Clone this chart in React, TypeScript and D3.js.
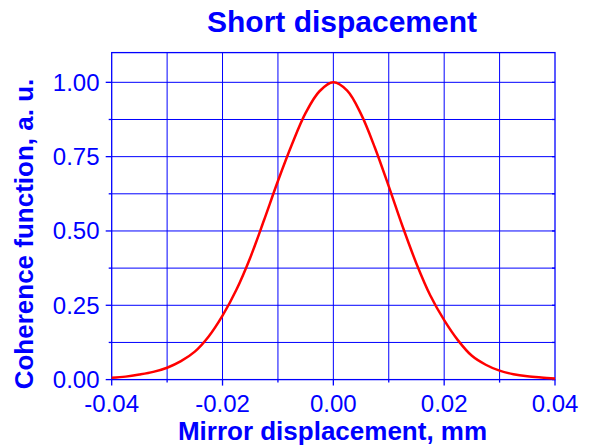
import React, { useEffect, useRef } from "react";
import * as d3 from "d3";

// values
const displacement = [
  -0.04, -0.0375, -0.035, -0.0325, -0.03, -0.0275, -0.025, -0.0225, -0.02, -0.0175, -0.015,
  -0.0125, -0.01, -0.0075, -0.005, -0.0025, 0, 0.0025, 0.005, 0.0075, 0.01, 0.0125, 0.015,
  0.0175, 0.02, 0.0225, 0.025, 0.0275, 0.03, 0.0325, 0.035, 0.0375, 0.04,
];
const coherence = [
  0.006, 0.01, 0.017, 0.026, 0.04, 0.062, 0.094, 0.145, 0.215, 0.302, 0.41, 0.537, 0.668, 0.79,
  0.897, 0.97, 1.0, 0.972, 0.893, 0.78, 0.65, 0.515, 0.39, 0.283, 0.2, 0.132, 0.08, 0.05,
  0.03, 0.018, 0.011, 0.007, 0.004,
];
const xTicks = [-0.04, -0.02, 0, 0.02, 0.04];
const xMinor = [-0.03, -0.01, 0.01, 0.03];
const yTicks = [0, 0.25, 0.5, 0.75, 1.0];
const yMinor = [0.125, 0.375, 0.625, 0.875];

const title = "Short dispacement";
const xTitle = "Mirror displacement, mm";
const yTitle = "Coherence function, a. u.";

export default function App() {
  const ref = useRef(null);

  useEffect(() => {
    const svg = d3.select(ref.current);
    svg.selectAll("*").remove();

    const width = 595;
    const height = 447;
    const left = 111.7, right = 555, top = 52.6, bottom = 379.6;
    const blue = "#0000ff";
    const font = "Arial, 'Liberation Sans', sans-serif";

    const x = d3.scaleLinear().domain([-0.04, 0.04]).range([left, right]);
    const y = d3.scaleLinear().domain([0, 1.1]).range([bottom, top]);

    svg.attr("width", width).attr("height", height);

    // grid
    const grid = svg.append("g").attr("stroke", blue).attr("stroke-width", 1);
    grid
      .selectAll("line.v")
      .data(xMinor.concat(xTicks.slice(1, -1)))
      .enter()
      .append("line")
      .attr("x1", (d) => x(d))
      .attr("x2", (d) => x(d))
      .attr("y1", top)
      .attr("y2", bottom);
    grid
      .selectAll("line.h")
      .data(yMinor.concat(yTicks.slice(1)))
      .enter()
      .append("line")
      .attr("x1", left)
      .attr("x2", right)
      .attr("y1", (d) => y(d))
      .attr("y2", (d) => y(d));

    // frame
    svg
      .append("rect")
      .attr("x", left)
      .attr("y", top)
      .attr("width", right - left)
      .attr("height", bottom - top)
      .attr("fill", "none")
      .attr("stroke", blue)
      .attr("stroke-width", 1.3);

    // ticks
    const ticks = svg.append("g").attr("stroke", blue).attr("stroke-width", 1.3);
    xTicks.forEach((d) => {
      ticks.append("line").attr("x1", x(d)).attr("x2", x(d)).attr("y1", bottom).attr("y2", bottom + 6);
    });
    xMinor.forEach((d) => {
      ticks.append("line").attr("x1", x(d)).attr("x2", x(d)).attr("y1", bottom).attr("y2", bottom + 3);
    });
    yTicks.forEach((d) => {
      ticks.append("line").attr("x1", left - 6).attr("x2", left).attr("y1", y(d)).attr("y2", y(d));
      ticks.append("line").attr("x1", right - 3).attr("x2", right).attr("y1", y(d)).attr("y2", y(d));
    });
    yMinor.forEach((d) => {
      ticks.append("line").attr("x1", left - 3).attr("x2", left).attr("y1", y(d)).attr("y2", y(d));
      ticks.append("line").attr("x1", right - 3).attr("x2", right).attr("y1", y(d)).attr("y2", y(d));
    });

    // tick labels
    svg
      .append("g")
      .selectAll("text")
      .data(xTicks)
      .enter()
      .append("text")
      .attr("x", (d) => x(d))
      .attr("y", 411.5)
      .attr("text-anchor", "middle")
      .attr("font-family", font)
      .attr("font-size", 24)
      .attr("fill", blue)
      .text((d) => d3.format(".2f")(d).replace("−", "-"));

    svg
      .append("g")
      .selectAll("text")
      .data(yTicks)
      .enter()
      .append("text")
      .attr("x", 99.5)
      .attr("y", (d) => y(d) + 8.3)
      .attr("text-anchor", "end")
      .attr("font-family", font)
      .attr("font-size", 24)
      .attr("fill", blue)
      .text((d) => d3.format(".2f")(d));

    // curve
    const pts = displacement.map((d, i) => [d, coherence[i]]);
    const line = d3
      .line()
      .x((d) => x(d[0]))
      .y((d) => y(d[1]))
      .curve(d3.curveCatmullRom);
    svg
      .append("path")
      .datum(pts)
      .attr("d", line)
      .attr("fill", "none")
      .attr("stroke", "#ff0000")
      .attr("stroke-width", 2.5);

    // titles
    svg
      .append("text")
      .attr("x", 342)
      .attr("y", 31.5)
      .attr("text-anchor", "middle")
      .attr("font-family", font)
      .attr("font-weight", "bold")
      .attr("font-size", 30)
      .attr("fill", blue)
      .text(title);

    svg
      .append("text")
      .attr("x", 332.5)
      .attr("y", 440)
      .attr("text-anchor", "middle")
      .attr("font-family", font)
      .attr("font-weight", "bold")
      .attr("font-size", 26)
      .attr("fill", blue)
      .text(xTitle);

    svg
      .append("text")
      .attr("transform", "translate(32.5,234) rotate(-90)")
      .attr("text-anchor", "middle")
      .attr("font-family", font)
      .attr("font-weight", "bold")
      .attr("font-size", 26)
      .attr("fill", blue)
      .text(yTitle);
  }, []);

  return <svg ref={ref} style={{ position: "absolute", left: 0, top: 0 }} />;
}
